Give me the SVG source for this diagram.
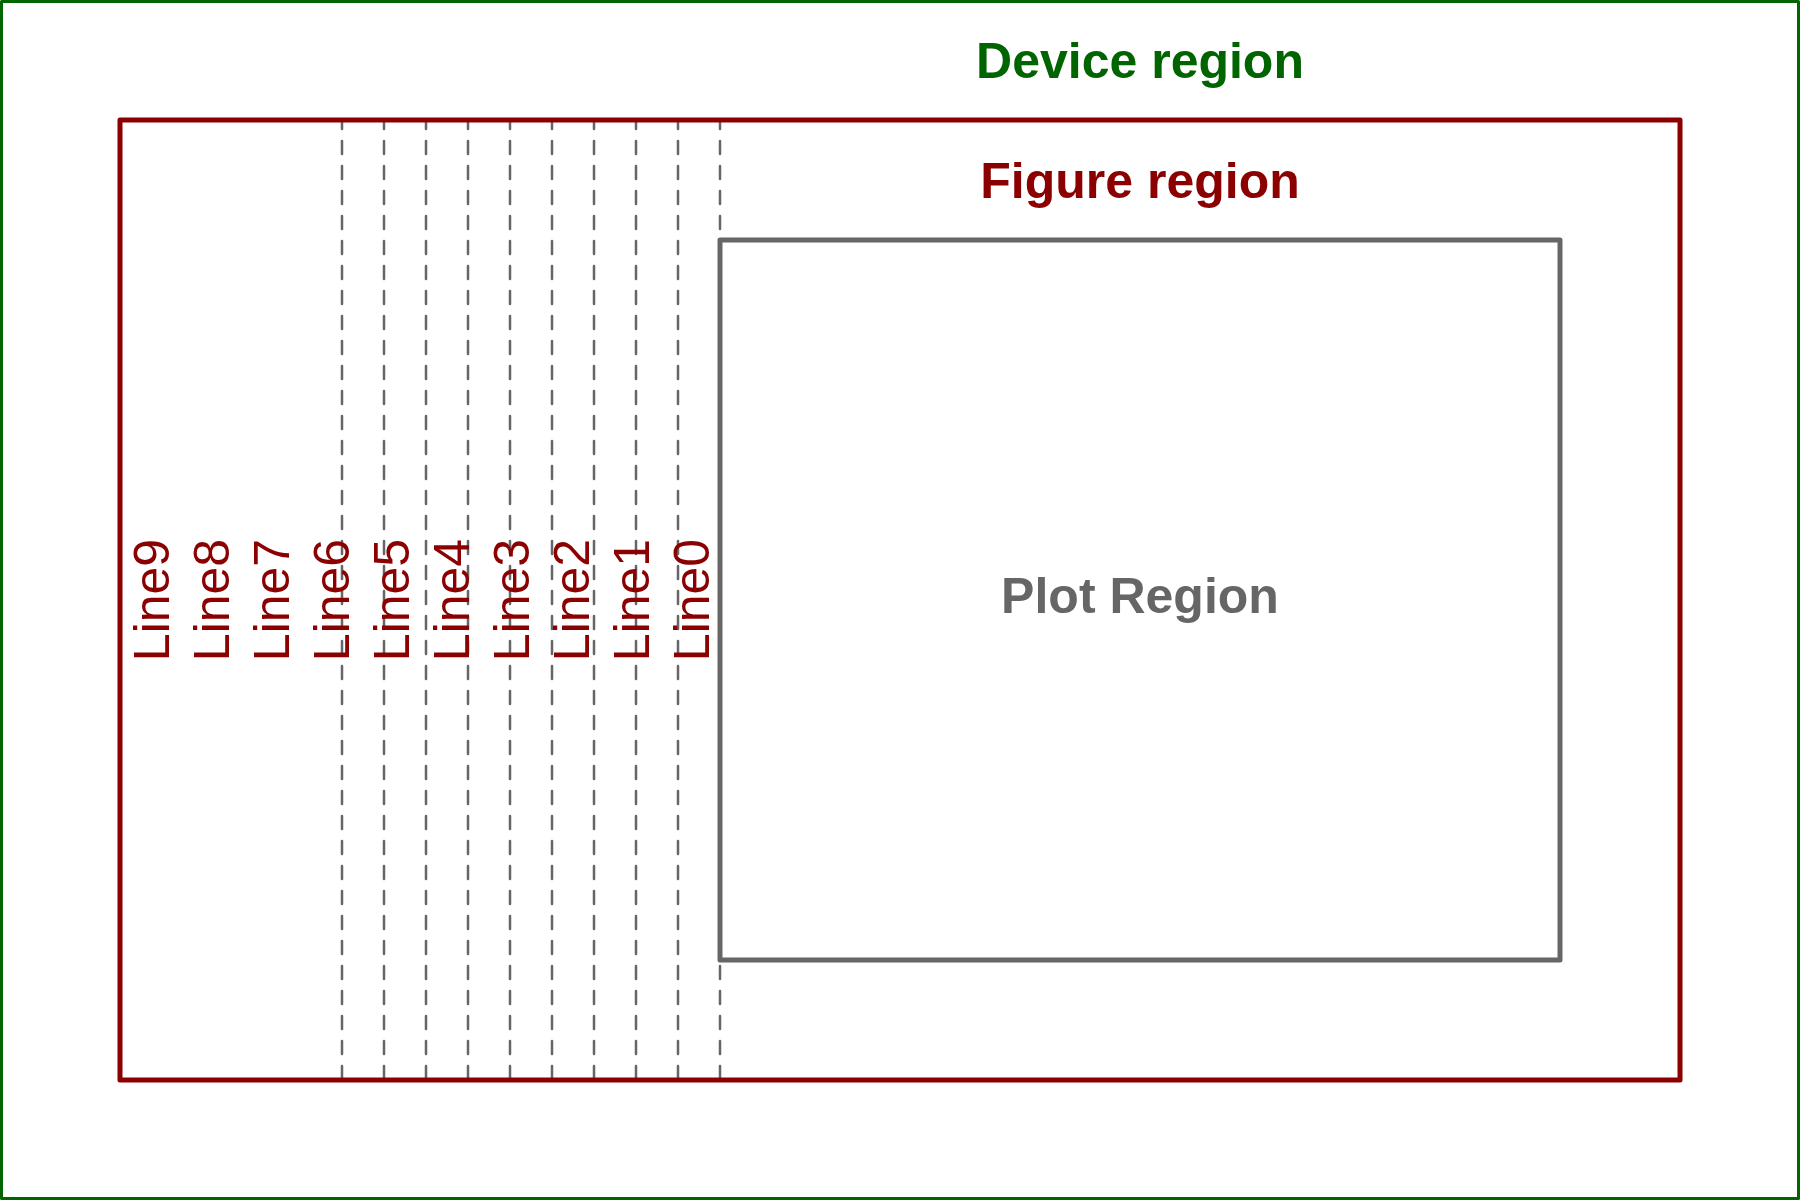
<svg xmlns="http://www.w3.org/2000/svg" width="1800" height="1200" viewBox="0 0 1800 1200">
<style>
.title{font-family:"Liberation Sans",Arial,sans-serif;font-weight:bold;font-size:50px;text-anchor:middle}
.lbl{font-family:"Liberation Sans",Arial,sans-serif;font-size:50px;fill:#8B0000;text-anchor:middle}
.dash{stroke:#666666;stroke-width:2.5;stroke-dasharray:13 12;stroke-dashoffset:-1;stroke-linecap:round;fill:none}
.box{fill:none;stroke-linejoin:round}
</style>
<rect width="1800" height="1200" fill="#ffffff"/>
<g id="device">
<rect class="box" x="1.5" y="1.5" width="1797" height="1197" stroke="#006400" stroke-width="3"/>
<text class="title" x="1140" y="78" fill="#006400">Device region</text>
</g>
<g id="connectors">
<line class="dash" x1="720" y1="1080" x2="720" y2="120"/>
<line class="dash" x1="678" y1="1080" x2="678" y2="120"/>
<line class="dash" x1="636" y1="1080" x2="636" y2="120"/>
<line class="dash" x1="594" y1="1080" x2="594" y2="120"/>
<line class="dash" x1="552" y1="1080" x2="552" y2="120"/>
<line class="dash" x1="510" y1="1080" x2="510" y2="120"/>
<line class="dash" x1="468" y1="1080" x2="468" y2="120"/>
<line class="dash" x1="426" y1="1080" x2="426" y2="120"/>
<line class="dash" x1="384" y1="1080" x2="384" y2="120"/>
<line class="dash" x1="342" y1="1080" x2="342" y2="120"/>
</g>
<g id="figure">
<rect class="box" x="120" y="120" width="1560" height="960" stroke="#8B0000" stroke-width="5"/>
<text class="title" x="1140" y="198" fill="#8B0000">Figure region</text>
</g>
<g id="plot">
<rect class="box" x="720" y="240" width="840" height="720" stroke="#666666" stroke-width="5"/>
<text class="title" x="1140" y="613" fill="#666666">Plot Region</text>
</g>
<g id="labels">
<text class="lbl" transform="translate(709,600) rotate(-90)">Line0</text>
<text class="lbl" transform="translate(649,600) rotate(-90)">Line1</text>
<text class="lbl" transform="translate(589,600) rotate(-90)">Line2</text>
<text class="lbl" transform="translate(529,600) rotate(-90)">Line3</text>
<text class="lbl" transform="translate(469,600) rotate(-90)">Line4</text>
<text class="lbl" transform="translate(409,600) rotate(-90)">Line5</text>
<text class="lbl" transform="translate(349,600) rotate(-90)">Line6</text>
<text class="lbl" transform="translate(289,600) rotate(-90)">Line7</text>
<text class="lbl" transform="translate(229,600) rotate(-90)">Line8</text>
<text class="lbl" transform="translate(169,600) rotate(-90)">Line9</text>
</g>
</svg>
